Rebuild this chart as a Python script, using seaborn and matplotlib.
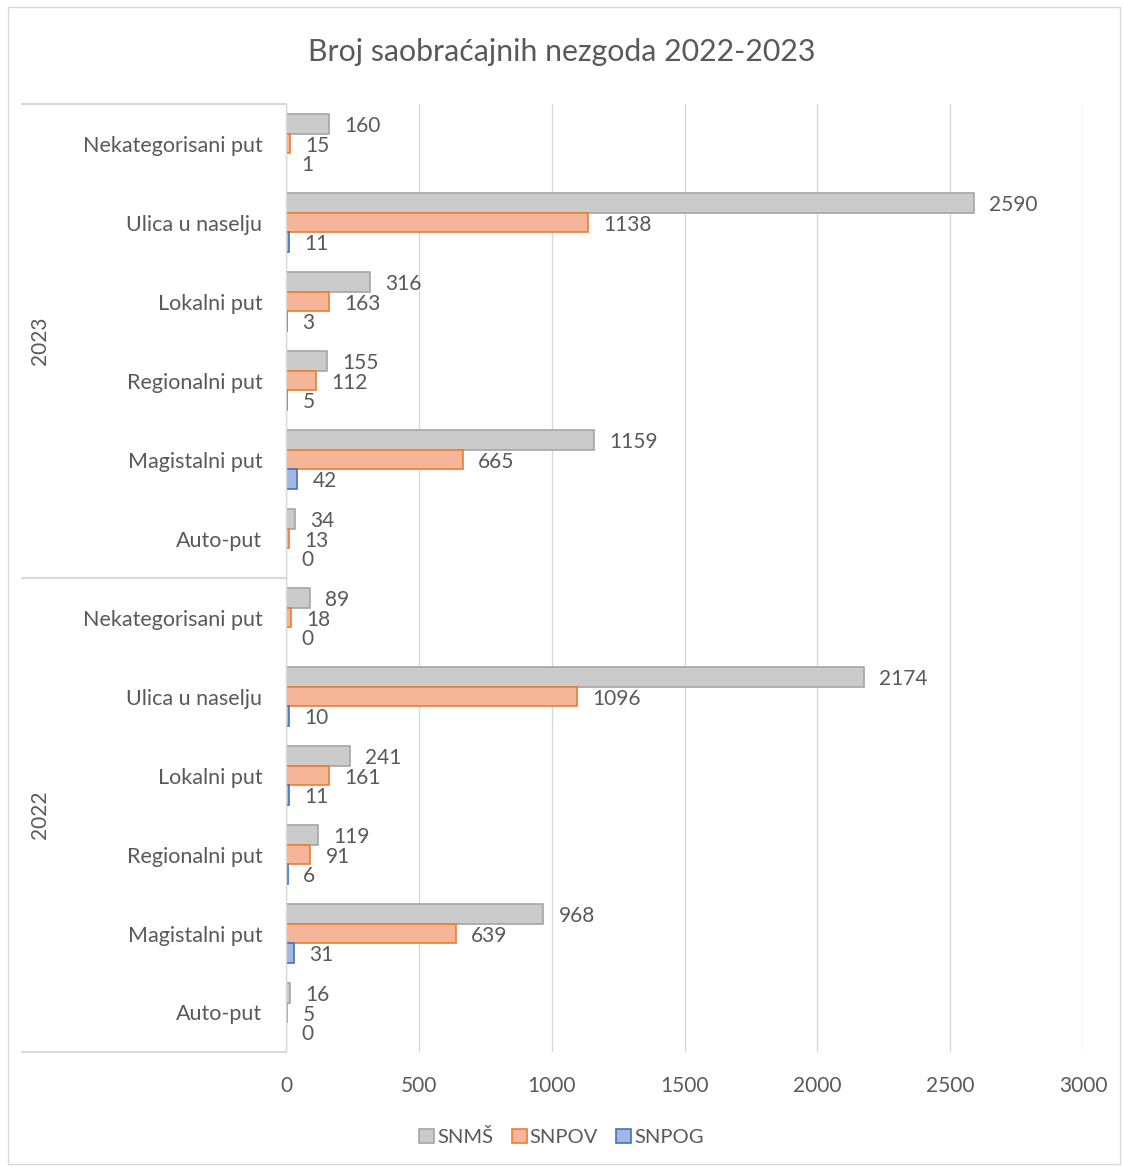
import matplotlib
matplotlib.use('Agg')
import matplotlib.pyplot as plt
import seaborn as sns
import pandas as pd
from matplotlib.patches import Patch, Rectangle

# Podaci
years = ['2023', '2022']
road_types = ['Nekategorisani put', 'Ulica u naselju', 'Lokalni put',
              'Regionalni put', 'Magistalni put', 'Auto-put']
series = ['SNMŠ', 'SNPOV', 'SNPOG']

snms_2023 = [160, 2590, 316, 155, 1159, 34]
snpov_2023 = [15, 1138, 163, 112, 665, 13]
snpog_2023 = [1, 11, 3, 5, 42, 0]
snms_2022 = [89, 2174, 241, 119, 968, 16]
snpov_2022 = [18, 1096, 161, 91, 639, 5]
snpog_2022 = [0, 10, 11, 6, 31, 0]

values = {
    '2023': [snms_2023, snpov_2023, snpog_2023],
    '2022': [snms_2022, snpov_2022, snpog_2022],
}

fill_colors = ['#cbcbcb', '#f5b598', '#a3b7e3']
edge_colors = ['#a5a5a5', '#ed7d31', '#4472c4']
text_color = '#595959'
grid_color = '#d9d9d9'
FS = 15

rows = []
keys = []
for yr in years:
    for i, rt in enumerate(road_types):
        key = f'{yr}|{rt}'
        keys.append(key)
        for s, vals in zip(series, values[yr]):
            rows.append({'key': key, 'series': s, 'value': vals[i]})
df = pd.DataFrame(rows)

sns.set_style('white')
plt.rcParams['font.family'] = ['Lato', 'DejaVu Sans']

fig = plt.figure(figsize=(11.23, 11.67), dpi=100)
ax = fig.add_axes([286 / 1123, 1 - 1052 / 1167, (1083 - 286) / 1123, (1052 - 104) / 1167])

sns.barplot(data=df, x='value', y='key', hue='series', orient='h',
            order=keys, hue_order=series, palette=fill_colors,
            saturation=1, width=0.75, ax=ax, legend=False)

for cont, ec in zip(ax.containers, edge_colors):
    for bar in cont:
        bar.set_edgecolor(ec)
        bar.set_linewidth(1.2)
    labels = ax.bar_label(cont, fmt='%d', padding=11, fontsize=FS, color=text_color)
    for t in labels:
        t.set_va('center_baseline')

ax.set_xlim(0, 3000)
ax.set_xticks(range(0, 3001, 500))
ax.set_yticks(range(len(keys)))
ax.set_yticklabels([k.split('|')[1] for k in keys])
ax.tick_params(axis='y', length=0, pad=17, labelsize=15.5, labelcolor=text_color)
ax.tick_params(axis='x', length=0, pad=17, labelsize=FS, labelcolor=text_color)
ax.set_xlabel('')
ax.set_ylabel('')
ax.xaxis.grid(True, color=grid_color, linewidth=1)
ax.set_axisbelow(True)
for side in ['top', 'right', 'bottom']:
    ax.spines[side].set_visible(False)
ax.spines['left'].set_color(grid_color)
ax.spines['left'].set_linewidth(1)

# grupe po godinama
tr = ax.get_yaxis_transform()
x0 = (22 - 286) / (1083 - 286)
for yv in [-0.5, 5.5, 11.5]:
    ax.plot([x0, 0], [yv, yv], transform=tr, color=grid_color, lw=1.5, clip_on=False)
ax.set_ylim(len(keys) - 0.5, -0.5)
xt = (40 - 286) / (1083 - 286)
ax.text(xt, 2.5, '2023', transform=tr, rotation=90, ha='center', va='center',
        fontsize=FS, color=text_color)
ax.text(xt, 8.5, '2022', transform=tr, rotation=90, ha='center', va='center',
        fontsize=FS, color=text_color)

fig.suptitle('Broj saobraćajnih nezgoda 2022-2023', y=1 - 52 / 1167, va='center',
             fontsize=21.8, color=text_color)

handles = [Patch(facecolor=fc, edgecolor=ec, linewidth=1.2)
           for fc, ec in zip(fill_colors, edge_colors)]
fig.legend(handles, series, loc='center', bbox_to_anchor=(0.5, 1 - 1137 / 1167),
           ncol=3, frameon=False, fontsize=14.5, labelcolor=text_color,
           handlelength=0.75, handleheight=0.75, handletextpad=0.15, columnspacing=0.9)

fig.patches.append(Rectangle((8 / 1123, 3 / 1167), 1112 / 1123, 1157 / 1167,
                             transform=fig.transFigure, fill=False,
                             edgecolor=grid_color, lw=1))

fig.savefig('out.png', dpi=100)
